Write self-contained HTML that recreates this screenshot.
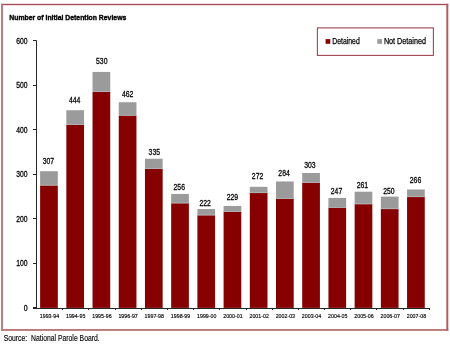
<!DOCTYPE html>
<html><head><meta charset="utf-8"><style>
html,body{margin:0;padding:0;background:#fff;width:450px;height:346px;overflow:hidden}
svg{display:block;will-change:transform}
</style></head><body>
<svg width="450" height="346" viewBox="0 0 450 346">
<rect x="1" y="3.8" width="447.3" height="1.4" fill="#a84c5a"/>
<rect x="1" y="329" width="447.3" height="1.9" fill="#bb7878"/>
<rect x="1" y="3.8" width="2" height="327" fill="#bc7c82"/>
<rect x="446.3" y="3.8" width="2" height="327" fill="#b25c60"/>
<text x="9.3" y="20.2" font-family="Liberation Sans" font-weight="bold" font-size="8.1" stroke="#000" stroke-width="0.4" textLength="117" lengthAdjust="spacingAndGlyphs" fill="#000">Number of Initial Detention Reviews</text>
<rect x="317.4" y="27.9" width="116" height="27.5" fill="#fff" stroke="#a34450" stroke-width="1.1"/>
<rect x="325.6" y="39.1" width="4.7" height="4.7" fill="#860000"/>
<text x="332.2" y="43.8" font-family="Liberation Sans" font-size="8.4" stroke="#000" stroke-width="0.25" textLength="27.6" lengthAdjust="spacingAndGlyphs" fill="#000">Detained</text>
<rect x="377.3" y="39.1" width="4.7" height="4.7" fill="#9b9b9b"/>
<text x="383.9" y="43.8" font-family="Liberation Sans" font-size="8.4" stroke="#000" stroke-width="0.25" textLength="42.1" lengthAdjust="spacingAndGlyphs" fill="#000">Not Detained</text>
<line x1="36.5" y1="40.5" x2="36.5" y2="309" stroke="#262626" stroke-width="1"/>
<line x1="33" y1="307.5" x2="36.5" y2="307.5" stroke="#262626" stroke-width="1"/>
<text x="23.7" y="310.8" font-family="Liberation Sans" font-size="8.3" stroke="#000" stroke-width="0.28" textLength="3.9" lengthAdjust="spacingAndGlyphs" fill="#000">0</text>
<line x1="33" y1="263.5" x2="36.5" y2="263.5" stroke="#262626" stroke-width="1"/>
<text x="16.3" y="266.3" font-family="Liberation Sans" font-size="8.3" stroke="#000" stroke-width="0.28" textLength="11.3" lengthAdjust="spacingAndGlyphs" fill="#000">100</text>
<line x1="33" y1="218.5" x2="36.5" y2="218.5" stroke="#262626" stroke-width="1"/>
<text x="16.3" y="221.8" font-family="Liberation Sans" font-size="8.3" stroke="#000" stroke-width="0.28" textLength="11.3" lengthAdjust="spacingAndGlyphs" fill="#000">200</text>
<line x1="33" y1="174.5" x2="36.5" y2="174.5" stroke="#262626" stroke-width="1"/>
<text x="16.3" y="177.2" font-family="Liberation Sans" font-size="8.3" stroke="#000" stroke-width="0.28" textLength="11.3" lengthAdjust="spacingAndGlyphs" fill="#000">300</text>
<line x1="33" y1="129.5" x2="36.5" y2="129.5" stroke="#262626" stroke-width="1"/>
<text x="16.3" y="132.7" font-family="Liberation Sans" font-size="8.3" stroke="#000" stroke-width="0.28" textLength="11.3" lengthAdjust="spacingAndGlyphs" fill="#000">400</text>
<line x1="33" y1="85.5" x2="36.5" y2="85.5" stroke="#262626" stroke-width="1"/>
<text x="16.3" y="88.2" font-family="Liberation Sans" font-size="8.3" stroke="#000" stroke-width="0.28" textLength="11.3" lengthAdjust="spacingAndGlyphs" fill="#000">500</text>
<line x1="33" y1="40.5" x2="36.5" y2="40.5" stroke="#262626" stroke-width="1"/>
<text x="16.3" y="43.7" font-family="Liberation Sans" font-size="8.3" stroke="#000" stroke-width="0.28" textLength="11.3" lengthAdjust="spacingAndGlyphs" fill="#000">600</text>
<rect x="40.12" y="171.22" width="17.7" height="14.25" fill="#9b9b9b"/>
<rect x="40.12" y="185.47" width="17.7" height="122.43" fill="#860000"/>
<rect x="40.12" y="184.77" width="17.7" height="0.7" fill="#b4bcbc"/>
<text x="42.65" y="164.3" font-family="Liberation Sans" font-size="8.3" stroke="#000" stroke-width="0.28" textLength="11.4" lengthAdjust="spacingAndGlyphs" fill="#000">307</text>
<text x="39.77" y="317.6" font-family="Liberation Sans" font-size="6" stroke="#000" stroke-width="0.15" textLength="19.4" lengthAdjust="spacingAndGlyphs" fill="#000">1993-94</text>
<rect x="66.33" y="110.23" width="17.7" height="14.69" fill="#9b9b9b"/>
<rect x="66.33" y="124.92" width="17.7" height="182.98" fill="#860000"/>
<rect x="66.33" y="124.22" width="17.7" height="0.7" fill="#b4bcbc"/>
<text x="68.90" y="102.8" font-family="Liberation Sans" font-size="8.3" stroke="#000" stroke-width="0.28" textLength="11.4" lengthAdjust="spacingAndGlyphs" fill="#000">444</text>
<text x="65.98" y="317.6" font-family="Liberation Sans" font-size="6" stroke="#000" stroke-width="0.15" textLength="19.4" lengthAdjust="spacingAndGlyphs" fill="#000">1994-95</text>
<rect x="92.54" y="71.94" width="17.7" height="20.03" fill="#9b9b9b"/>
<rect x="92.54" y="91.98" width="17.7" height="215.92" fill="#860000"/>
<rect x="92.54" y="91.28" width="17.7" height="0.7" fill="#b4bcbc"/>
<text x="96.05" y="64.1" font-family="Liberation Sans" font-size="8.3" stroke="#000" stroke-width="0.28" textLength="11.4" lengthAdjust="spacingAndGlyphs" fill="#000">530</text>
<text x="92.19" y="317.6" font-family="Liberation Sans" font-size="6" stroke="#000" stroke-width="0.15" textLength="19.4" lengthAdjust="spacingAndGlyphs" fill="#000">1995-96</text>
<rect x="118.75" y="102.22" width="17.7" height="13.36" fill="#9b9b9b"/>
<rect x="118.75" y="115.57" width="17.7" height="192.33" fill="#860000"/>
<rect x="118.75" y="114.87" width="17.7" height="0.7" fill="#b4bcbc"/>
<text x="121.90" y="96.6" font-family="Liberation Sans" font-size="8.3" stroke="#000" stroke-width="0.28" textLength="11.4" lengthAdjust="spacingAndGlyphs" fill="#000">462</text>
<text x="118.40" y="317.6" font-family="Liberation Sans" font-size="6" stroke="#000" stroke-width="0.15" textLength="19.4" lengthAdjust="spacingAndGlyphs" fill="#000">1996-97</text>
<rect x="144.96" y="158.76" width="17.7" height="10.24" fill="#9b9b9b"/>
<rect x="144.96" y="169.00" width="17.7" height="138.90" fill="#860000"/>
<rect x="144.96" y="168.30" width="17.7" height="0.7" fill="#b4bcbc"/>
<text x="148.60" y="154.9" font-family="Liberation Sans" font-size="8.3" stroke="#000" stroke-width="0.28" textLength="11.4" lengthAdjust="spacingAndGlyphs" fill="#000">335</text>
<text x="144.61" y="317.6" font-family="Liberation Sans" font-size="6" stroke="#000" stroke-width="0.15" textLength="19.4" lengthAdjust="spacingAndGlyphs" fill="#000">1997-98</text>
<rect x="171.17" y="193.93" width="17.7" height="9.35" fill="#9b9b9b"/>
<rect x="171.17" y="203.28" width="17.7" height="104.62" fill="#860000"/>
<rect x="171.17" y="202.58" width="17.7" height="0.7" fill="#b4bcbc"/>
<text x="173.55" y="190.0" font-family="Liberation Sans" font-size="8.3" stroke="#000" stroke-width="0.28" textLength="11.4" lengthAdjust="spacingAndGlyphs" fill="#000">256</text>
<text x="170.82" y="317.6" font-family="Liberation Sans" font-size="6" stroke="#000" stroke-width="0.15" textLength="19.4" lengthAdjust="spacingAndGlyphs" fill="#000">1998-99</text>
<rect x="197.38" y="209.07" width="17.7" height="6.23" fill="#9b9b9b"/>
<rect x="197.38" y="215.30" width="17.7" height="92.60" fill="#860000"/>
<rect x="197.38" y="214.60" width="17.7" height="0.7" fill="#b4bcbc"/>
<text x="199.40" y="205.7" font-family="Liberation Sans" font-size="8.3" stroke="#000" stroke-width="0.28" textLength="11.4" lengthAdjust="spacingAndGlyphs" fill="#000">222</text>
<text x="197.03" y="317.6" font-family="Liberation Sans" font-size="6" stroke="#000" stroke-width="0.15" textLength="19.4" lengthAdjust="spacingAndGlyphs" fill="#000">1999-00</text>
<rect x="223.59" y="205.95" width="17.7" height="5.79" fill="#9b9b9b"/>
<rect x="223.59" y="211.74" width="17.7" height="96.16" fill="#860000"/>
<rect x="223.59" y="211.04" width="17.7" height="0.7" fill="#b4bcbc"/>
<text x="226.75" y="200.3" font-family="Liberation Sans" font-size="8.3" stroke="#000" stroke-width="0.28" textLength="11.4" lengthAdjust="spacingAndGlyphs" fill="#000">229</text>
<text x="223.24" y="317.6" font-family="Liberation Sans" font-size="6" stroke="#000" stroke-width="0.15" textLength="19.4" lengthAdjust="spacingAndGlyphs" fill="#000">2000-01</text>
<rect x="249.80" y="186.81" width="17.7" height="6.23" fill="#9b9b9b"/>
<rect x="249.80" y="193.04" width="17.7" height="114.86" fill="#860000"/>
<rect x="249.80" y="192.34" width="17.7" height="0.7" fill="#b4bcbc"/>
<text x="251.85" y="178.5" font-family="Liberation Sans" font-size="8.3" stroke="#000" stroke-width="0.28" textLength="11.4" lengthAdjust="spacingAndGlyphs" fill="#000">272</text>
<text x="249.45" y="317.6" font-family="Liberation Sans" font-size="6" stroke="#000" stroke-width="0.15" textLength="19.4" lengthAdjust="spacingAndGlyphs" fill="#000">2001-02</text>
<rect x="276.01" y="181.46" width="17.7" height="17.36" fill="#9b9b9b"/>
<rect x="276.01" y="198.83" width="17.7" height="109.07" fill="#860000"/>
<rect x="276.01" y="198.13" width="17.7" height="0.7" fill="#b4bcbc"/>
<text x="278.35" y="176.2" font-family="Liberation Sans" font-size="8.3" stroke="#000" stroke-width="0.28" textLength="11.4" lengthAdjust="spacingAndGlyphs" fill="#000">284</text>
<text x="275.66" y="317.6" font-family="Liberation Sans" font-size="6" stroke="#000" stroke-width="0.15" textLength="19.4" lengthAdjust="spacingAndGlyphs" fill="#000">2002-03</text>
<rect x="302.22" y="173.00" width="17.7" height="9.79" fill="#9b9b9b"/>
<rect x="302.22" y="182.80" width="17.7" height="125.10" fill="#860000"/>
<rect x="302.22" y="182.10" width="17.7" height="0.7" fill="#b4bcbc"/>
<text x="304.15" y="168.2" font-family="Liberation Sans" font-size="8.3" stroke="#000" stroke-width="0.28" textLength="11.4" lengthAdjust="spacingAndGlyphs" fill="#000">303</text>
<text x="301.87" y="317.6" font-family="Liberation Sans" font-size="6" stroke="#000" stroke-width="0.15" textLength="19.4" lengthAdjust="spacingAndGlyphs" fill="#000">2003-04</text>
<rect x="328.43" y="197.94" width="17.7" height="9.79" fill="#9b9b9b"/>
<rect x="328.43" y="207.73" width="17.7" height="100.17" fill="#860000"/>
<rect x="328.43" y="207.03" width="17.7" height="0.7" fill="#b4bcbc"/>
<text x="330.80" y="193.8" font-family="Liberation Sans" font-size="8.3" stroke="#000" stroke-width="0.28" textLength="11.4" lengthAdjust="spacingAndGlyphs" fill="#000">247</text>
<text x="328.08" y="317.6" font-family="Liberation Sans" font-size="6" stroke="#000" stroke-width="0.15" textLength="19.4" lengthAdjust="spacingAndGlyphs" fill="#000">2004-05</text>
<rect x="354.64" y="191.70" width="17.7" height="12.47" fill="#9b9b9b"/>
<rect x="354.64" y="204.17" width="17.7" height="103.73" fill="#860000"/>
<rect x="354.64" y="203.47" width="17.7" height="0.7" fill="#b4bcbc"/>
<text x="356.70" y="187.8" font-family="Liberation Sans" font-size="8.3" stroke="#000" stroke-width="0.28" textLength="11.4" lengthAdjust="spacingAndGlyphs" fill="#000">261</text>
<text x="354.29" y="317.6" font-family="Liberation Sans" font-size="6" stroke="#000" stroke-width="0.15" textLength="19.4" lengthAdjust="spacingAndGlyphs" fill="#000">2005-06</text>
<rect x="380.85" y="196.60" width="17.7" height="12.47" fill="#9b9b9b"/>
<rect x="380.85" y="209.07" width="17.7" height="98.83" fill="#860000"/>
<rect x="380.85" y="208.37" width="17.7" height="0.7" fill="#b4bcbc"/>
<text x="383.25" y="193.8" font-family="Liberation Sans" font-size="8.3" stroke="#000" stroke-width="0.28" textLength="11.4" lengthAdjust="spacingAndGlyphs" fill="#000">250</text>
<text x="380.50" y="317.6" font-family="Liberation Sans" font-size="6" stroke="#000" stroke-width="0.15" textLength="19.4" lengthAdjust="spacingAndGlyphs" fill="#000">2006-07</text>
<rect x="407.06" y="189.48" width="17.7" height="7.57" fill="#9b9b9b"/>
<rect x="407.06" y="197.05" width="17.7" height="110.85" fill="#860000"/>
<rect x="407.06" y="196.35" width="17.7" height="0.7" fill="#b4bcbc"/>
<text x="409.80" y="183.3" font-family="Liberation Sans" font-size="8.3" stroke="#000" stroke-width="0.28" textLength="11.4" lengthAdjust="spacingAndGlyphs" fill="#000">266</text>
<text x="406.71" y="317.6" font-family="Liberation Sans" font-size="6" stroke="#000" stroke-width="0.15" textLength="19.4" lengthAdjust="spacingAndGlyphs" fill="#000">2007-08</text>
<line x1="33" y1="308.5" x2="430" y2="308.5" stroke="#262626" stroke-width="1"/>
<line x1="62.5" y1="308.5" x2="62.5" y2="310" stroke="#262626" stroke-width="1"/>
<line x1="88.5" y1="308.5" x2="88.5" y2="310" stroke="#262626" stroke-width="1"/>
<line x1="115.5" y1="308.5" x2="115.5" y2="310" stroke="#262626" stroke-width="1"/>
<line x1="141.5" y1="308.5" x2="141.5" y2="310" stroke="#262626" stroke-width="1"/>
<line x1="167.5" y1="308.5" x2="167.5" y2="310" stroke="#262626" stroke-width="1"/>
<line x1="193.5" y1="308.5" x2="193.5" y2="310" stroke="#262626" stroke-width="1"/>
<line x1="219.5" y1="308.5" x2="219.5" y2="310" stroke="#262626" stroke-width="1"/>
<line x1="246.5" y1="308.5" x2="246.5" y2="310" stroke="#262626" stroke-width="1"/>
<line x1="272.5" y1="308.5" x2="272.5" y2="310" stroke="#262626" stroke-width="1"/>
<line x1="298.5" y1="308.5" x2="298.5" y2="310" stroke="#262626" stroke-width="1"/>
<line x1="324.5" y1="308.5" x2="324.5" y2="310" stroke="#262626" stroke-width="1"/>
<line x1="350.5" y1="308.5" x2="350.5" y2="310" stroke="#262626" stroke-width="1"/>
<line x1="376.5" y1="308.5" x2="376.5" y2="310" stroke="#262626" stroke-width="1"/>
<line x1="403.5" y1="308.5" x2="403.5" y2="310" stroke="#262626" stroke-width="1"/>
<line x1="429.5" y1="308.5" x2="429.5" y2="310" stroke="#262626" stroke-width="1"/>
<text x="3.7" y="340.5" font-family="Liberation Sans" font-size="8.5" stroke="#000" stroke-width="0.15" textLength="96" lengthAdjust="spacingAndGlyphs" fill="#000">Source:&#160; National Parole Board.</text>
</svg>
</body></html>
